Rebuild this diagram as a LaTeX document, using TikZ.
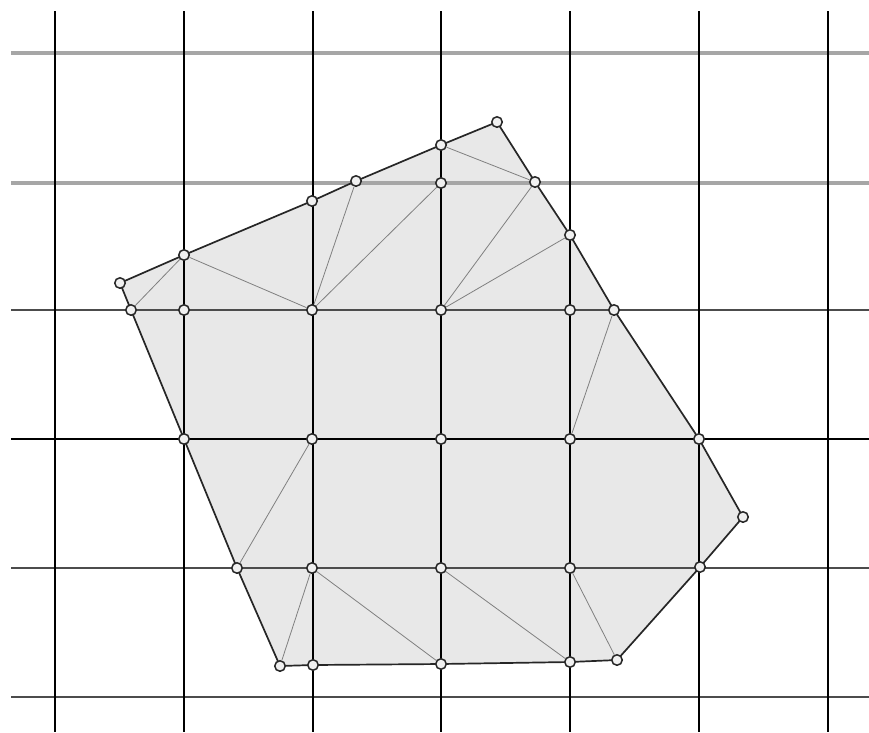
\documentclass[tikz,border=0pt]{standalone}
\begin{document}
\begin{tikzpicture}[x=1pt,y=-1pt,
  vline/.style={black,line width=2.1pt},
  hgray/.style={black!35,line width=3.5pt},
  hdark/.style={black!70,line width=1.8pt},
  hblack/.style={black,line width=2.1pt},
  region/.style={fill=black!9},
  border/.style={black!85,line width=1.7pt,line join=round},
  tri/.style={black!50,line width=0.8pt},
  vtx/.style={circle,draw=black!85,fill=black!6,line width=1.5pt,inner sep=0pt,minimum size=10.5pt}]
\useasboundingbox (0,0) rectangle (869,732);
% boundary vertices
\coordinate (p1) at (120,283);
\coordinate (p2) at (184,255);
\coordinate (p3) at (312,201);
\coordinate (p4) at (356,181);
\coordinate (p5) at (441,145);
\coordinate (p6) at (497,122);
\coordinate (p7) at (535,182);
\coordinate (p8) at (570,235);
\coordinate (p9) at (614,310);
\coordinate (p10) at (699,439);
\coordinate (p11) at (743,517);
\coordinate (p12) at (700,567);
\coordinate (p13) at (617,660);
\coordinate (p14) at (570,662);
\coordinate (p15) at (441,664);
\coordinate (p16) at (313,665);
\coordinate (p17) at (280,666);
\coordinate (p18) at (237,568);
\coordinate (p19) at (184,439);
\coordinate (p20) at (131,310);
% interior vertices
\coordinate (a1) at (184,310);
\coordinate (a2) at (312,310);
\coordinate (a3) at (441,310);
\coordinate (a4) at (570,310);
\coordinate (b2) at (312,439);
\coordinate (b3) at (441,439);
\coordinate (b4) at (570,439);
\coordinate (c2) at (312,568);
\coordinate (c3) at (441,568);
\coordinate (c4) at (570,568);
\coordinate (d3) at (441,183);
% region
\fill[region] (p1) -- (p2) -- (p3) -- (p4) -- (p5) -- (p6) -- (p7) -- (p8) -- (p9) -- (p10)
  -- (p11) -- (p12) -- (p13) -- (p14) -- (p15) -- (p16) -- (p17) -- (p18) -- (p19) -- (p20) -- cycle;
% grid
\draw[hgray] (11,53) -- (869,53);
\draw[hgray] (11,183) -- (869,183);
\draw[hdark] (11,310) -- (869,310);
\draw[hblack] (11,439) -- (869,439);
\draw[hdark] (11,568) -- (869,568);
\draw[hdark] (11,697) -- (869,697);
\foreach \x in {55,184,313,441,570,699,828} \draw[vline] (\x,11) -- (\x,732);
% boundary
\draw[border] (p1) -- (p2) -- (p3) -- (p4) -- (p5) -- (p6) -- (p7) -- (p8) -- (p9) -- (p10)
  -- (p11) -- (p12) -- (p13) -- (p14) -- (p15) -- (p16) -- (p17) -- (p18) -- (p19) -- (p20) -- cycle;
% vertex nodes
\foreach \n in {p1,p2,p3,p4,p5,p6,p7,p8,p9,p10,p11,p12,p13,p14,p15,p16,p17,p18,p19,p20,a1,a2,a3,a4,b2,b3,b4,c2,c3,c4,d3}
  \node[vtx] (n\n) at (\n) {};
% triangulation edges
\draw[tri] (np20) -- (np2);
\draw[tri] (np2) -- (na2);
\draw[tri] (na2) -- (np4);
\draw[tri] (na2) -- (nd3);
\draw[tri] (np5) -- (np7);
\draw[tri] (na3) -- (np7);
\draw[tri] (na3) -- (np8);
\draw[tri] (np9) -- (nb4);
\draw[tri] (nb2) -- (np18);
\draw[tri] (nc2) -- (np17);
\draw[tri] (nc2) -- (np15);
\draw[tri] (nc3) -- (np14);
\draw[tri] (nc4) -- (np13);
\end{tikzpicture}
\end{document}
